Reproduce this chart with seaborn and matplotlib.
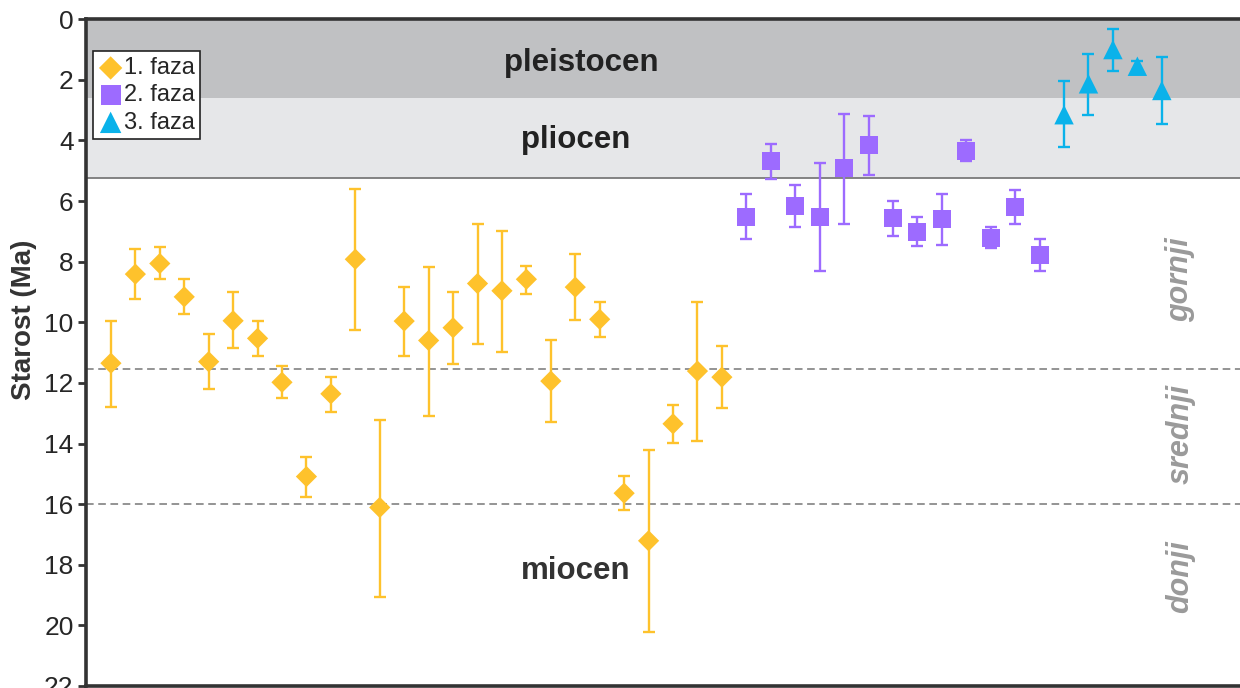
import numpy as np
import pandas as pd
import matplotlib
matplotlib.use("Agg")
import matplotlib.pyplot as plt
import seaborn as sns

# ages (Ma) and error-bar ends
faza1_age = [11.35, 8.41, 8.06, 9.16, 11.30, 9.95, 10.53, 11.98, 15.09, 12.36,
             7.92, 16.11, 9.96, 10.60, 10.18, 8.72, 8.96, 8.58, 11.94, 8.84,
             9.90, 15.64, 17.21, 13.35, 11.61, 11.81]
faza1_min = [9.96, 7.59, 7.51, 8.58, 10.40, 8.99, 9.96, 11.44, 14.43, 11.79,
             5.60, 13.23, 8.82, 8.19, 8.99, 6.74, 6.98, 8.13, 10.60, 7.73,
             9.34, 15.07, 14.21, 12.73, 9.34, 10.77]
faza1_max = [12.78, 9.22, 8.58, 9.73, 12.21, 10.86, 11.10, 12.51, 15.75, 12.95,
             10.25, 19.05, 11.10, 13.08, 11.39, 10.72, 10.99, 9.05, 13.30, 9.91,
             10.47, 16.21, 20.23, 13.99, 13.92, 12.84]

faza2_age = [6.52, 4.67, 6.17, 6.52, 4.92, 4.14, 6.57, 7.03, 6.60, 4.34, 7.21, 6.20, 7.77]
faza2_min = [5.77, 4.10, 5.48, 4.74, 3.12, 3.19, 6.00, 6.52, 5.77, 3.99, 6.86, 5.65, 7.26]
faza2_max = [7.26, 5.27, 6.86, 8.30, 6.75, 5.14, 7.14, 7.48, 7.44, 4.67, 7.56, 6.75, 8.30]

faza3_age = [3.15, 2.13, 1.00, 1.55, 2.35]
faza3_min = [2.05, 1.15, 0.33, 1.38, 1.23]
faza3_max = [4.22, 3.15, 1.70, 1.68, 3.44]

phase_names = ["1. faza", "2. faza", "3. faza"]
phase_colors = ["#FEC22C", "#9D6BFF", "#0AB2EA"]
phase_markers = ["D", "s", "^"]
phase_sizes = [10.8, 13, 14]

epoch_bounds = [0, 2.6, 5.25, 22]
epoch_labels = ["pleistocen", "pliocen", "miocen"]
sub_bounds = [11.53, 16.0]
sub_labels = ["gornji", "srednji", "donji"]

df = pd.DataFrame({
    "age": faza1_age + faza2_age + faza3_age,
    "lo": faza1_min + faza2_min + faza3_min,
    "hi": faza1_max + faza2_max + faza3_max,
    "faza": [phase_names[0]] * len(faza1_age)
            + [phase_names[1]] * len(faza2_age)
            + [phase_names[2]] * len(faza3_age),
})
df["sample"] = np.arange(len(df))

sns.set_style("ticks")
plt.rcParams["font.family"] = ["Liberation Sans", "DejaVu Sans"]

fig = plt.figure(figsize=(12.4, 6.88), dpi=100)
ax = fig.add_axes([86 / 1240, 0.003, 1 - 86 / 1240, 0.969])

# epoch shading
ax.axhspan(epoch_bounds[0], epoch_bounds[1], color="#C0C1C3", lw=0, zorder=0)
ax.axhspan(epoch_bounds[1], epoch_bounds[2], color="#E6E7E9", lw=0, zorder=0)
ax.axhline(epoch_bounds[2], color="#7a7a7a", lw=1.3, zorder=1)
for b in sub_bounds:
    ax.axhline(b, color="#777777", lw=1.1, ls=(0, (5, 3)), zorder=1)

# error bars
for name, color in zip(phase_names, phase_colors):
    d = df[df["faza"] == name]
    ax.errorbar(d["sample"], d["age"],
                yerr=[d["age"] - d["lo"], d["hi"] - d["age"]],
                fmt="none", ecolor=color, elinewidth=1.7, capsize=4,
                capthick=1.7, zorder=2)

# points
for name, color, m, ms in zip(phase_names, phase_colors, phase_markers, phase_sizes):
    d = df[df["faza"] == name]
    sns.scatterplot(data=d, x="sample", y="age", marker=m, color=color,
                    s=ms ** 2, edgecolor="none", ax=ax, zorder=3, label=name)

ax.set_xlim(-1.02, 46.2)
ax.set_ylim(22, 0)
ax.set_yticks(np.arange(0, 23, 2))
ax.set_xticks([])
ax.set_xlabel("")
ax.set_ylabel("Starost (Ma)", fontsize=20, fontweight="bold", color="#333333")
ax.yaxis.set_label_coords(-0.0425, 0.549)
ax.tick_params(axis="y", labelsize=19, length=6, width=2, color="#333333",
               direction="out", pad=3)

for side in ["left", "top", "bottom"]:
    ax.spines[side].set_color("#333333")
    ax.spines[side].set_linewidth(2.6)
ax.spines["right"].set_visible(False)

# epoch labels
ax.text(19.24, 1.45, epoch_labels[0], fontsize=22.5, fontweight="bold",
        color="#222222", ha="center", va="center")
ax.text(19.0, 3.98, epoch_labels[1], fontsize=22.5, fontweight="bold",
        color="#222222", ha="center", va="center")
ax.text(19.0, 18.2, epoch_labels[2], fontsize=22.5, fontweight="bold",
        color="#333333", ha="center", va="center")

sub_y = [8.6, 13.7, 18.4]
for lab, yy in zip(sub_labels, sub_y):
    ax.text(43.76, yy, lab, fontsize=22, fontweight="bold", style="italic",
            color="#9a9a9a", rotation=90, ha="center", va="center")

leg = ax.legend(loc="upper left", bbox_to_anchor=(0.006, 0.952), fontsize=17,
                frameon=True, fancybox=False, borderpad=0.25, labelspacing=0.22,
                handletextpad=0.05, handlelength=1.0, borderaxespad=0,
                markerscale=1.1)
leg.get_frame().set_edgecolor("#222222")
leg.get_frame().set_linewidth(1.2)
leg.get_frame().set_alpha(1)

fig.savefig("out.png", dpi=100)
